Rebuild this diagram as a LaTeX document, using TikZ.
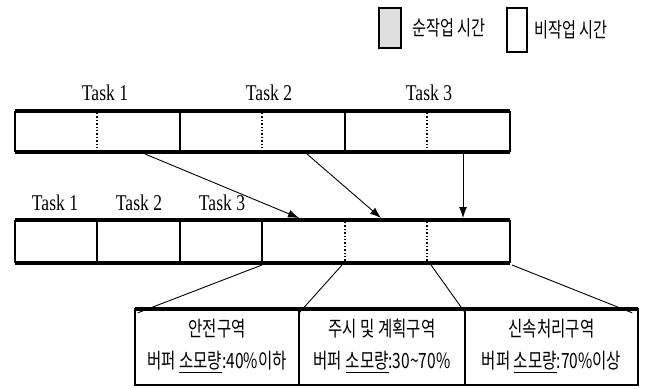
\documentclass[tikz,border=0pt]{standalone}
\usepackage{fontspec}
\setmainfont{Liberation Serif}
\newfontfamily\taskfont[FakeStretch=0.78]{Liberation Serif}
\newfontfamily\kr[FakeStretch=0.74]{Noto Sans CJK KR}
\usetikzlibrary{arrows.meta}
\begin{document}
\begin{tikzpicture}[x=1pt,y=-1pt,
  bar/.style={line width=4.5pt},
  side/.style={line width=2.5pt},
  divsolid/.style={line width=2.2pt},
  divdot/.style={line width=1.4pt,dotted},
  seg/.style={draw=none,inner sep=0pt},
  tasklbl/.style={font=\taskfont\fontsize{22.5}{24}\selectfont,inner sep=0pt},
  krlbl/.style={font=\kr\fontsize{20.5}{22}\selectfont,inner sep=0pt},
  boxlbl/.style={font=\kr\fontsize{21}{32}\selectfont,inner sep=0pt,align=center},
  flow/.style={line width=0.9pt,-{Latex[length=11pt,width=8pt]}},
  fan/.style={line width=0.9pt}]
\useasboundingbox (0,0) rectangle (658,388);
% legend
\node[seg,minimum width=22pt,minimum height=40pt,draw,line width=2.5pt,fill=gray!25] (lgA) at (390,28) {};
\node[krlbl,anchor=west] (lgAt) at (412,28) {순작업 시간};
\node[seg,minimum width=20pt,minimum height=44pt,draw,line width=2.5pt] (lgB) at (517,30) {};
\node[krlbl,anchor=west] (lgBt) at (534,30) {비작업 시간};
% top row segments
\node[seg,minimum width=165pt,minimum height=41pt] (T1) at (97.5,131.5) {};
\node[seg,minimum width=165pt,minimum height=41pt] (T2) at (262.5,131.5) {};
\node[seg,minimum width=165pt,minimum height=41pt] (T3) at (427.5,131.5) {};
\node[tasklbl] (T1l) at (105,93) {Task 1};
\node[tasklbl] (T2l) at (269,93) {Task 2};
\node[tasklbl] (T3l) at (429,93) {Task 3};
\draw[divdot] (97,113) -- (97,150);
\draw[divdot] (262,113) -- (262,150);
\draw[divdot] (427,113) -- (427,150);
\draw[divsolid] (180,111) -- (180,152);
\draw[divsolid] (345,111) -- (345,152);
\draw[side] (15,111) -- (15,152);
\draw[side] (510,111) -- (510,152);
\draw[bar] (T1.north west) -- (T3.north east);
\draw[bar] (T1.south west) -- (T3.south east);
% bottom row
\node[seg,minimum width=82pt,minimum height=43pt] (B1) at (56,241.5) {};
\node[seg,minimum width=83pt,minimum height=43pt] (B2) at (138.5,241.5) {};
\node[seg,minimum width=82pt,minimum height=43pt] (B3) at (221,241.5) {};
\node[seg,minimum width=248pt,minimum height=43pt] (BUF) at (386,241.5) {};
\node[tasklbl] (B1l) at (55,203) {Task 1};
\node[tasklbl] (B2l) at (139,203) {Task 2};
\node[tasklbl] (B3l) at (222,203) {Task 3};
\draw[divdot] (345,222) -- (345,261);
\draw[divdot] (427,222) -- (427,261);
\draw[divsolid] (97,220) -- (97,263);
\draw[divsolid] (180,220) -- (180,263);
\draw[divsolid] (262,220) -- (262,263);
\draw[side] (15,220) -- (15,263);
\draw[side] (510,220) -- (510,263);
\draw[bar] (B1.north west) -- (BUF.north east);
\draw[bar] (B1.south west) -- (BUF.south east);
% arrows
\coordinate (a1s) at (145,154);
\coordinate (a2s) at (307,154);
\coordinate (a3s) at (463,154);
\coordinate (a1e) at (299,218);
\coordinate (a2e) at (381,218);
\coordinate (a3e) at (463,218);
\draw[flow] (a1s) -- (a1e);
\draw[flow] (a2s) -- (a2e);
\draw[flow] (a3s) -- (a3e);
% zone boxes
\node[seg,minimum width=164pt,minimum height=76pt] (Z1) at (217,347) {};
\node[seg,minimum width=166pt,minimum height=76pt] (Z2) at (382,347) {};
\node[seg,minimum width=173pt,minimum height=76pt] (Z3) at (551.5,347) {};
\node[boxlbl] (Z1t) at ([yshift=1pt]Z1) {안전구역\\버퍼 \underline{소모량}:40\%이하};
\node[boxlbl] (Z2t) at ([yshift=1pt]Z2) {주시 및 계획구역\\버퍼 \underline{소모량}:30\textasciitilde70\%};
\node[boxlbl] (Z3t) at ([yshift=1pt]Z3) {신속처리구역\\버퍼 \underline{소모량}:70\%이상};
\draw[line width=2.2pt] (Z1.north west) rectangle (Z3.south east);
\draw[line width=2.2pt] (Z1.north east) -- (Z1.south east);
\draw[line width=2.2pt] (Z2.north east) -- (Z2.south east);
\draw[line width=4.5pt] (Z1.north west) -- (Z3.north east);
% fan lines
\coordinate (f1) at (262,265);
\coordinate (f2) at (342,265);
\coordinate (f3) at (431,265);
\coordinate (f4) at (512,265);
\draw[fan] (f1) -- ([xshift=3pt,yshift=-4pt]Z1.north west);
\draw[fan] (f2) -- ([yshift=-4pt]Z1.north east);
\draw[fan] (f3) -- ([yshift=-4pt]Z2.north east);
\draw[fan] (f4) -- ([xshift=-6pt,yshift=-4pt]Z3.north east);
\end{tikzpicture}
\end{document}
